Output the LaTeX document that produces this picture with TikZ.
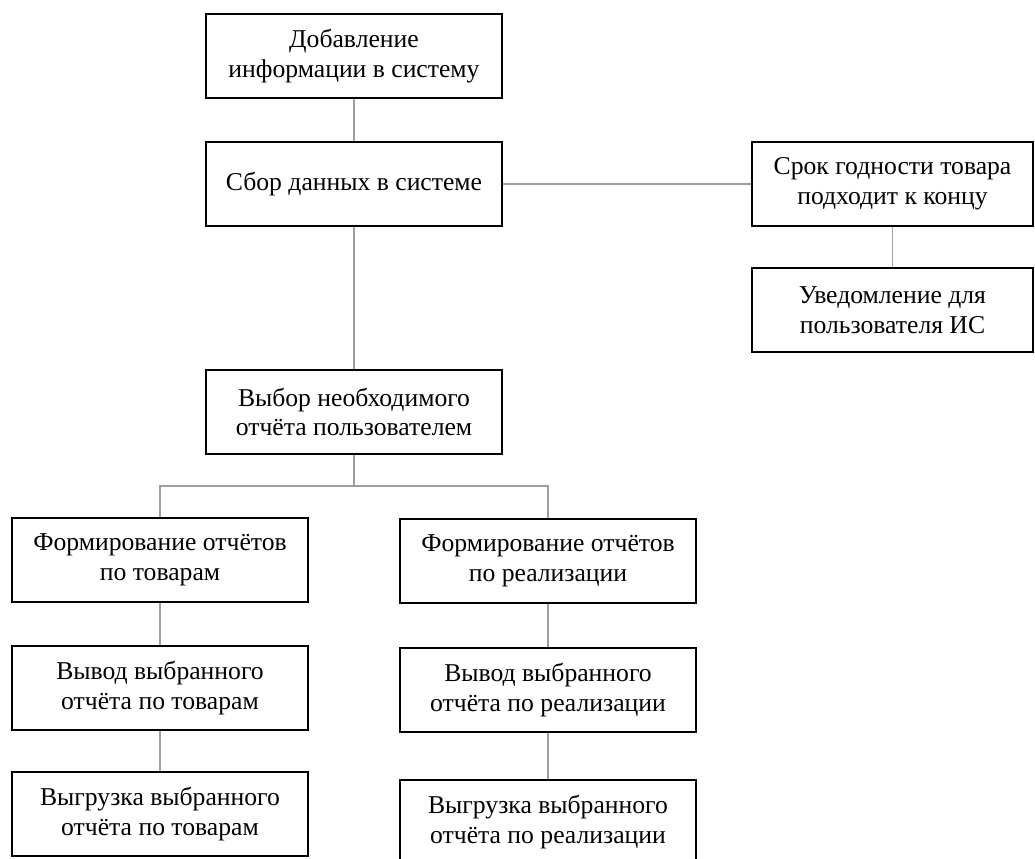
\documentclass[tikz,border=0pt]{standalone}
\usepackage{fontspec}
\setmainfont{Liberation Serif}
\usetikzlibrary{calc}
\tikzset{
    box/.style={draw, line width=0.7pt, minimum height=1.68cm,
                minimum width=5.92cm, inner sep=4pt, align=center,
                font=\fontsize{14.6}{17}\selectfont},
    widebox/.style={box, minimum width=5.62cm},
    link/.style={line width=0.8pt, draw=black!38},
}

\begin{document}
\begin{tikzpicture}

    \useasboundingbox (0,0) rectangle (20.7,-17.18);
    \clip (0,0) rectangle (20.7,-17.18);

    \node[box] (add) at (7.08,-1.12) {Добавление\\информации в систему};
    \node[box] (collect) at (7.08,-3.68) {Сбор данных в системе};
    \node[widebox] (expiry) at (17.85,-3.68) {Срок годности товара\\подходит к концу};
    \node[widebox] (notify) at (17.85,-6.2) {Уведомление для\\пользователя ИС};
    \node[box] (choose) at (7.08,-8.24) {Выбор необходимого\\отчёта пользователем};
    \node[box] (formgoods) at (3.2,-11.2) {Формирование отчётов\\по товарам};
    \node[box] (formsales) at (10.96,-11.22) {Формирование отчётов\\по реализации};
    \node[box] (showgoods) at (3.2,-13.76) {Вывод выбранного\\отчёта по товарам};
    \node[box] (showsales) at (10.96,-13.8) {Вывод выбранного\\отчёта по реализации};
    \node[box] (exportgoods) at (3.2,-16.28) {Выгрузка выбранного\\отчёта по товарам};
    \node[box] (exportsales) at (10.96,-16.44) {Выгрузка выбранного\\отчёта по реализации};
    \coordinate (split) at (7.08,-9.72);

    \draw[link] (add) -- (collect);
    \draw[link] (collect) -- (expiry);
    \draw[link] (expiry) -- (notify);
    \draw[link] (collect) -- (choose);
    \draw[link] (choose) -- (split) -| (formgoods);
    \draw[link] (split) -| (formsales);
    \draw[link] (formgoods) -- (showgoods);
    \draw[link] (showgoods) -- (exportgoods);
    \draw[link] (formsales) -- (showsales);
    \draw[link] (showsales) -- (exportsales);

\end{tikzpicture}
\end{document}
